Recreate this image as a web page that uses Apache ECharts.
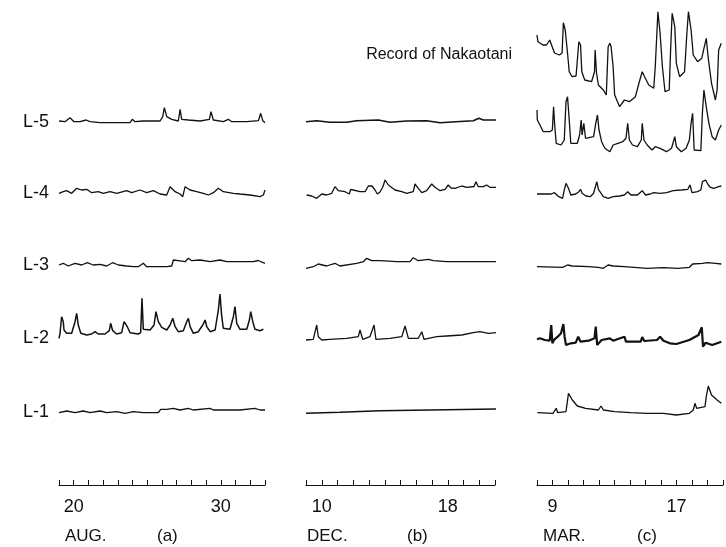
<!DOCTYPE html>
<html>
<head>
<meta charset="utf-8">
<script src="https://cdn.jsdelivr.net/npm/echarts@6/dist/echarts.min.js"></script>
<style>
  html, body { margin: 0; padding: 0; background: #fff; }
  #chart { width: 726px; height: 547px; }
</style>
</head>
<body>
<div id="chart"></div>
<script>
// channel names and the level each trace sits at on the hidden y axis
var channels = ['Nakaotani', 'L-5', 'L-4', 'L-3', 'L-2', 'L-1'];
var levels = [400, 363, 292, 220, 147, 73];

// tick labels and captions of each panel
var tickLabelsA = [20, 30];
var tickLabelsB = [10, 18];
var tickLabelsC = [9, 17];
var monthA = 'AUG.', monthB = 'DEC.', monthC = 'MAR.';

// (a) August, [day, level change]
var aL5 = [[19.0,1],[19.41,0.3],[19.75,4.3],[20.02,0.3],[20.43,0.3],[20.84,2],[21.11,0.3],[21.79,-0.7],[22.92,-0.7],[23.83,-0.7],[23.98,2.7],[24.17,0.3],[24.73,1],[25.87,1],[26.05,5.3],[26.16,14.3],[26.32,5.3],[26.66,2.7],[27.11,1],[27.23,12.7],[27.34,2.7],[27.79,2],[28.59,1],[29.22,2.7],[29.33,10.3],[29.49,2],[30.17,0.3],[30.51,2.7],[30.74,0.3],[31.76,0.3],[32.55,1.3],[32.71,8.7],[32.85,1.3],[33.0,-0.7]];
var aL4 = [[19.0,-0.3],[19.29,1.3],[19.52,2.3],[19.86,-0.3],[20.2,4.7],[20.54,3],[20.88,3.7],[21.22,0.3],[21.67,1.3],[22.01,-0.3],[22.47,1.3],[22.92,-0.3],[23.6,2.3],[23.94,0.3],[24.51,3],[24.96,0.3],[25.41,2.3],[25.87,-1],[26.32,-2],[26.55,6.3],[26.89,1.3],[27.23,-1],[27.41,-3.7],[27.57,6.3],[27.91,3],[28.36,1.3],[28.81,-0.3],[29.15,-2],[29.49,0.3],[29.83,4.7],[30.17,1.3],[30.85,-0.3],[31.3,-1],[31.98,-2],[32.66,-3.7],[32.89,-2],[33.0,3]];
var aL3 = [[19.0,0],[19.29,1.7],[19.63,-1],[20.09,1.7],[20.54,0],[20.92,2.3],[21.33,0],[21.79,0.7],[22.24,-1],[22.65,2.3],[23.03,0],[23.6,-1],[24.05,-1.7],[24.39,-1.7],[24.73,1.7],[24.96,-1.7],[25.64,-1.7],[26.32,-1.7],[26.66,-1],[26.77,5],[27.11,4.3],[27.57,3.3],[27.79,6.7],[28.02,4.3],[28.59,5],[29.27,3.3],[29.94,5],[30.4,3.3],[31.3,3.3],[32.21,3.3],[32.53,4.5],[33.0,1.7]];
var aL2 = [[19.0,-0.3],[19.07,4.7],[19.18,21.3],[19.29,16.3],[19.34,8],[19.52,4.7],[19.86,4.7],[20.09,16.3],[20.2,24.7],[20.31,13],[20.48,4.7],[20.88,3],[21.22,4],[21.45,6.3],[21.67,4],[22.13,4],[22.42,7.3],[22.51,14.7],[22.65,7.3],[22.92,4],[23.26,5.3],[23.42,16.3],[23.55,18],[23.64,11.3],[23.83,5.3],[24.39,4],[24.55,5.3],[24.64,39.7],[24.73,8.7],[25.19,8],[25.46,13],[25.59,26.3],[25.75,16.3],[25.98,10.7],[26.32,8],[26.55,13],[26.73,19.7],[26.89,11.3],[27.11,6.3],[27.45,7.3],[27.68,16.3],[27.79,19.7],[27.91,11.3],[28.13,4.7],[28.47,6.3],[28.77,13],[28.93,18],[29.04,11.3],[29.27,6.3],[29.61,8],[29.83,28],[29.94,44],[30.06,21.3],[30.17,9.7],[30.62,8.7],[30.85,21.3],[30.96,31.3],[31.08,14.7],[31.3,8.7],[31.76,8.7],[31.94,18],[32.03,26.3],[32.17,16.3],[32.32,8.7],[32.66,7.3],[32.89,8.7]];
var aL1 = [[19.0,-0.7],[19.52,1],[20.09,-0.7],[20.65,1],[21.11,-0.7],[21.79,1],[22.24,-0.7],[22.92,0.3],[23.49,-1.3],[24.05,0.3],[24.73,-0.7],[25.75,-0.7],[25.91,2.7],[26.32,2.7],[26.77,3.7],[27.23,2],[27.79,3.7],[28.13,2],[29.27,3.7],[29.49,2],[30.4,2],[31.3,2],[32.32,3.7],[32.66,2],[33.0,2]];

// (b) December
var bL5 = [[9.0,0.3],[9.68,1.3],[10.52,-0.3],[11.58,-0.3],[12.22,1.3],[13.59,2],[14.33,-0.3],[15.39,1],[16.66,1.3],[17.51,-0.7],[18.78,0.5],[19.62,1.3],[19.98,3.7],[20.26,2],[21.06,2]];
var bL4 = [[9.04,-2],[9.36,-3],[9.68,-5.3],[10.0,-1],[10.31,-2],[10.63,-0.3],[10.84,6.3],[11.05,2.3],[11.48,1.3],[11.75,-1],[11.84,3.7],[12.0,3],[12.43,1.3],[12.75,1.3],[12.96,7],[13.19,7],[13.38,3],[13.53,-1],[13.7,1],[13.87,5.7],[14.02,13],[14.23,8],[14.65,3],[15.08,1.3],[15.39,-0.3],[15.81,1.3],[15.92,9],[16.13,4.7],[16.35,0.3],[16.66,2.3],[16.98,9],[17.19,5.7],[17.51,2.3],[17.83,3.7],[18.03,8],[18.21,5],[18.46,4.7],[18.89,7],[19.2,5.7],[19.67,6.5],[19.79,11.3],[19.94,6.3],[20.26,6.3],[20.47,8],[20.68,5.7],[21.06,5.7]];
var bL3 = [[9.0,-3.3],[9.46,-1.7],[9.78,1],[10.31,-1],[10.84,1.7],[11.16,-1],[12.22,1.7],[12.64,3.3],[12.85,6.7],[13.17,4.3],[13.7,4.3],[14.76,3.3],[15.6,3.3],[15.81,7.3],[16.13,4.3],[16.77,5.7],[17.08,4.3],[17.93,3.3],[18.78,3.3],[19.62,3.3],[20.47,3.3],[21.06,3.3]];
var bL2 = [[9.0,-2],[9.46,-1.3],[9.68,13],[9.78,1.3],[10.0,-2],[10.52,-1.3],[11.58,-0.3],[12.32,1.3],[12.43,8],[12.6,-1.3],[13.06,1.3],[13.32,13],[13.44,-1.3],[14.33,-0.3],[15.08,1.3],[15.29,12],[15.5,-0.3],[16.13,-0.3],[16.35,6.3],[16.49,-1.3],[17.3,1.3],[17.93,2],[18.89,3],[19.62,5.3],[20.05,6.3],[20.58,4.7],[21.06,5.3]];
var bL1 = [[9.0,-1.3],[11.16,-0.3],[13.7,1.3],[16.87,2],[21.06,3]];

// (c) March
var cNK = [[8.0,50],[8.06,43.3],[8.38,40],[8.61,40],[8.82,45],[8.92,43.3],[9.13,32],[9.45,30],[9.62,32],[9.7,62.3],[9.82,55],[9.95,35],[10.08,13.3],[10.26,8.3],[10.52,9],[10.7,43.3],[10.81,40],[10.89,13.3],[11.08,5],[11.52,3.3],[11.71,13.3],[11.75,35],[11.84,12],[11.96,0],[12.28,-5],[12.47,-10],[12.59,38.3],[12.7,41.7],[12.78,38.3],[12.91,18.3],[13.01,-10],[13.33,-21.7],[13.64,-15],[13.96,-16.7],[14.35,-11.7],[14.58,2],[14.79,13.3],[14.98,7],[15.21,0],[15.53,-3.3],[15.63,18.3],[15.8,73.3],[15.94,52],[16.09,18.3],[16.26,-6.7],[16.53,-5],[16.62,35],[16.72,71.7],[16.89,58.3],[16.99,21.7],[17.2,8.3],[17.52,13.3],[17.67,51.7],[17.77,73.3],[17.94,55],[18.08,30],[18.36,23.3],[18.63,26.7],[18.77,36.7],[18.92,46.7],[19.05,26.7],[19.26,1.7],[19.51,-15],[19.62,-5],[19.72,35],[19.89,41.7]];
var cL5 = [[8.0,12],[8.02,2],[8.19,-3],[8.4,-9.7],[8.82,-9.7],[8.99,-8],[9.07,15.3],[9.15,-4.7],[9.24,-21.3],[9.55,-23],[9.76,-18],[9.87,20.3],[9.97,25.3],[10.08,2],[10.18,-21.3],[10.6,-21.3],[10.75,-13],[10.85,2],[10.91,-13],[11.02,-1.3],[11.13,-16.3],[11.65,-14.7],[11.79,-1.3],[11.9,7],[12.0,-8],[12.17,-19.7],[12.38,-26.3],[12.7,-29.7],[12.91,-23],[13.22,-21.3],[13.53,-19.7],[13.74,-16.3],[13.85,-1.3],[13.96,-18],[14.16,-23],[14.48,-24.7],[14.73,-18],[14.79,-1.3],[14.9,-18],[15.11,-23],[15.42,-28],[15.63,-24.7],[15.94,-26.3],[16.36,-29.7],[16.68,-26.3],[16.89,-14.7],[16.99,-24.7],[17.31,-29.7],[17.62,-26.3],[17.83,-18],[17.94,-1.3],[18.04,8.7],[18.14,-28],[18.57,-28.7],[18.67,8.7],[18.77,32],[18.92,15.3],[19.09,-1.3],[19.3,-14.7],[19.51,-18],[19.72,-8],[19.89,-3]];
var cL4 = [[8.0,-1],[8.92,-1],[9.13,0.3],[9.4,-3.7],[9.65,-5.3],[9.76,3],[9.87,9.7],[10.03,4.7],[10.18,-2],[10.5,-1],[10.7,1.3],[10.81,3.7],[10.91,-0.3],[11.16,-3],[11.44,-3.7],[11.65,-0.3],[11.86,11.3],[11.96,3.7],[12.28,-3.7],[12.59,-5.3],[12.91,-3.7],[13.33,-3],[13.64,-2],[13.85,1.3],[14.06,-2],[14.48,-2],[14.79,2.3],[15.0,-2],[15.31,-1],[15.53,0.3],[15.94,-0.3],[16.36,0.3],[16.79,2.3],[17.31,3],[17.73,3.7],[17.87,8],[18.0,0.3],[18.36,1.3],[18.57,3],[18.67,11.3],[18.88,13],[19.05,8],[19.19,5.7],[19.4,4.7],[19.72,6.3],[19.89,7]];
var cL3 = [[8.0,-1.7],[9.65,-2.3],[9.97,0],[10.28,-1],[11.33,-1.7],[11.96,-2.3],[12.28,-3.3],[12.59,0],[12.91,-1],[13.64,-1.7],[14.27,-2.3],[15.11,-3.3],[16.16,-2.7],[17.1,-3.3],[17.83,-2.3],[18.04,1],[18.67,1.7],[18.99,2.3],[19.51,1.7],[19.89,1]];
var cL2 = [[8.0,-1.3],[8.19,-0.3],[8.5,-2],[8.82,-2.7],[8.92,13],[8.99,-5.3],[9.13,-1.3],[9.34,1.3],[9.55,4.7],[9.7,14],[9.78,1.3],[9.87,-7],[10.18,-5.3],[10.5,-4.7],[10.66,1.3],[10.81,-3.7],[11.33,-2.7],[11.71,-0.3],[11.79,11.3],[11.88,-7],[12.17,-2],[12.7,-0.3],[12.91,-2.7],[13.64,1.3],[13.74,-3.7],[14.69,-3.7],[14.79,1],[14.92,-3],[15.74,-2],[15.94,1.3],[16.16,-2.7],[16.57,-5.3],[16.99,-6],[17.83,-2],[18.42,3],[18.63,10.7],[18.71,-8.7],[18.88,-4.7],[19.3,-7],[19.89,-3.7]];
var cL1 = [[8.02,-0.7],[9.03,-1.3],[9.13,-3],[9.24,3.7],[9.34,-0.7],[9.87,0.3],[10.03,18.7],[10.12,20.3],[10.28,12],[10.6,6],[11.13,3.7],[11.96,2],[12.13,6],[12.28,2],[13.01,0.3],[14.06,-0.7],[15.11,-1.3],[16.16,-1.3],[16.99,-3],[17.83,-1.3],[18.08,2],[18.19,8.7],[18.3,3.7],[18.84,5.3],[18.92,15.3],[19.05,26],[19.26,17],[19.62,12],[19.89,8.7]];

var chart = echarts.init(document.getElementById('chart'), null, {renderer: 'canvas'});
var ink = '#111';
var font = "'Liberation Sans', Arial, sans-serif";

//每个面板的x轴
function xAxisOf(idx, min, max, labels) {
  return {
    type: 'value', gridIndex: idx, min: min, max: max, interval: 1,
    axisLine: {lineStyle: {color: ink, width: 1.2}},
    axisTick: {inside: true, length: 5, lineStyle: {color: ink, width: 1}},
    splitLine: {show: false},
    axisLabel: {
      color: ink, fontSize: 18, fontFamily: font, margin: 13,
      formatter: function (v) { return labels.indexOf(v) >= 0 ? String(v) : ''; }
    }
  };
}
function yAxisOf(idx, withNames) {
  return {
    type: 'value', gridIndex: idx, min: 0, max: 485,
    axisLine: {show: false}, axisTick: {show: false}, splitLine: {show: false},
    axisLabel: withNames ? {
      show: true, color: ink, fontSize: 18, fontFamily: font, margin: 10,
      customValues: levels.slice(1),
      formatter: function (v) { var i = levels.indexOf(v); return i >= 0 ? channels[i] : ''; }
    } : {show: false}
  };
}

var series = [];
function addTrace(idx, ch, data, width) {
  var base = levels[ch];
  series.push({
    type: 'line', xAxisIndex: idx, yAxisIndex: idx, name: channels[ch],
    data: data.map(function (p) { return [p[0], base + p[1]]; }),
    symbol: 'none', clip: false, silent: true,
    lineStyle: {color: ink, width: width || 1.3}
  });
}
addTrace(0, 1, aL5); addTrace(0, 2, aL4); addTrace(0, 3, aL3); addTrace(0, 4, aL2, 1.5); addTrace(0, 5, aL1);
addTrace(1, 1, bL5, 1.6); addTrace(1, 2, bL4); addTrace(1, 3, bL3); addTrace(1, 4, bL2); addTrace(1, 5, bL1, 1.6);
addTrace(2, 0, cNK); addTrace(2, 1, cL5); addTrace(2, 2, cL4); addTrace(2, 3, cL3); addTrace(2, 4, cL2, 2.2); addTrace(2, 5, cL1);

function caption(x, txt) {
  return {type: 'text', left: x, top: 528, style: {text: txt, fill: ink, fontSize: 17, fontFamily: font}};
}

chart.setOption({
  animation: false,
  backgroundColor: '#fff',
  grid: [
    {left: 59, width: 206, top: 0, bottom: 62},
    {left: 306, width: 189, top: 0, bottom: 62},
    {left: 537, width: 190.8, top: 0, bottom: 62}
  ],
  xAxis: [xAxisOf(0, 19, 33, tickLabelsA), xAxisOf(1, 9, 21, tickLabelsB), xAxisOf(2, 8, 20, tickLabelsC)],
  yAxis: [yAxisOf(0, true), yAxisOf(1, false), yAxisOf(2, false)],
  graphic: [
    {type: 'text', right: 214, top: 47, style: {text: 'Record of Nakaotani', fill: ink, fontSize: 16, fontFamily: font}},
    caption(65, monthA), caption(157, '(a)'),
    caption(307, monthB), caption(407, '(b)'),
    caption(543, monthC), caption(637, '(c)')
  ],
  series: series
});
</script>
</body>
</html>
